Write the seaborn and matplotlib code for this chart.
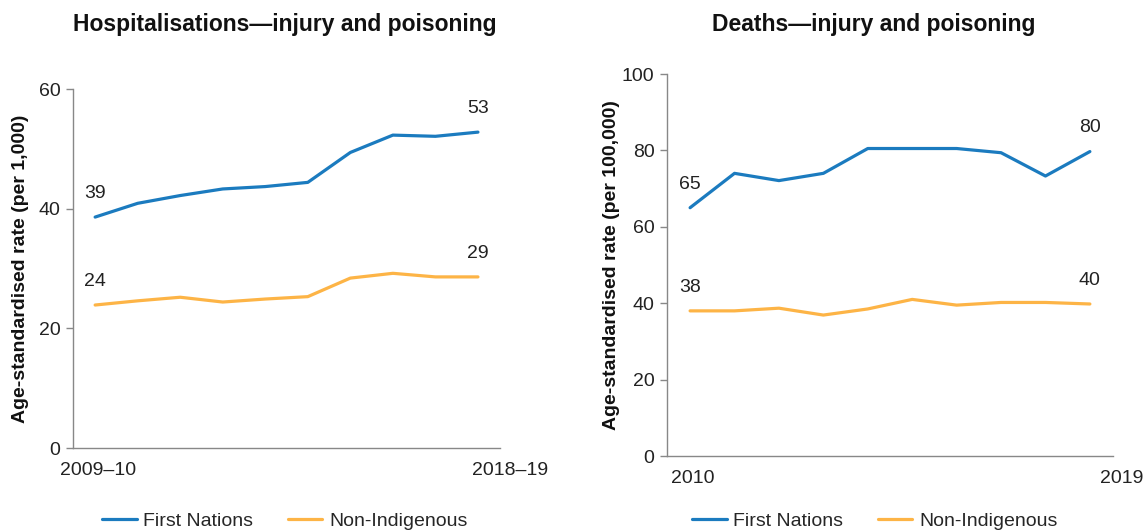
import numpy as np
import pandas as pd
import seaborn as sns
import matplotlib.pyplot as plt
from matplotlib.lines import Line2D

# data
hosp_years = ['2009–10', '2010–11', '2011–12', '2012–13', '2013–14',
              '2014–15', '2015–16', '2016–17', '2017–18', '2018–19']
hosp_first_nations = [38.6, 40.9, 42.2, 43.3, 43.7, 44.4, 49.4, 52.3, 52.1, 52.8]
hosp_non_indigenous = [23.9, 24.6, 25.2, 24.4, 24.9, 25.3, 28.4, 29.2, 28.6, 28.6]

death_years = ['2010', '2011', '2012', '2013', '2014',
               '2015', '2016', '2017', '2018', '2019']
death_first_nations = [65.0, 74.0, 72.1, 74.0, 80.5, 80.5, 80.5, 79.4, 73.3, 79.7]
death_non_indigenous = [38.0, 38.0, 38.7, 36.9, 38.5, 41.0, 39.5, 40.2, 40.2, 39.8]

series = ['First Nations', 'Non-Indigenous']
colors = {'First Nations': '#1b7bbf', 'Non-Indigenous': '#fdb446'}


def long_df(years, fn, ni):
    df = pd.DataFrame({'Year': years, 'First Nations': fn, 'Non-Indigenous': ni})
    df['pos'] = range(len(years))
    return df.melt(id_vars=['Year', 'pos'], var_name='Group', value_name='Rate')


sns.set_style('white')
plt.rcParams['font.family'] = ['Liberation Sans', 'DejaVu Sans']
plt.rcParams['font.size'] = 14

fig = plt.figure(figsize=(11.48, 5.31), dpi=100)
ax1 = fig.add_axes([0.0636, 0.1563, 0.372, 0.676])
ax2 = fig.add_axes([0.581, 0.1412, 0.3885, 0.7194])

panels = [
    (ax1, long_df(hosp_years, hosp_first_nations, hosp_non_indigenous), hosp_years,
     60, [0, 20, 40, 60], 'Age-standardised rate (per 1,000)', -0.104, 285),
    (ax2, long_df(death_years, death_first_nations, death_non_indigenous), death_years,
     100, [0, 20, 40, 60, 80, 100], 'Age-standardised rate (per 100,000)', -0.105, 875),
]

for ax, df, years, ymax, yticks, ylab, labx, legx in panels:
    sns.lineplot(data=df, x='pos', y='Rate', hue='Group', palette=colors,
                 linewidth=2.3, legend=False, ax=ax)
    n = len(years)
    ax.set_xlim(-0.52, n - 1 + 0.52)
    ax.set_ylim(0, ymax)
    ax.set_yticks(yticks)
    ax.set_xticks([])
    ax.tick_params(axis='y', length=5, width=1, color='#888888', labelsize=14,
                   labelcolor='#222222', left=True, direction='out', pad=4)
    for s in ['top', 'right']:
        ax.spines[s].set_visible(False)
    for s in ['left', 'bottom']:
        ax.spines[s].set_color('#888888')
        ax.spines[s].set_linewidth(1)
    ax.set_xlabel('')
    ax.set_ylabel(ylab, fontsize=14, fontweight='bold', color='#111111')
    ax.yaxis.set_label_coords(labx, 0.5)

    # category labels at the two ends of the axis
    trans = ax.get_xaxis_transform()
    ax.annotate(years[0], (0, 0), xycoords=trans, xytext=(2, -16),
                textcoords='offset points', ha='center', va='center',
                fontsize=14, color='#222222')
    ax.annotate(years[-1], (n - 1, 0), xycoords=trans, xytext=(23, -16),
                textcoords='offset points', ha='center', va='center',
                fontsize=14, color='#222222')

    # value labels at the first and last points
    for g in series:
        sub = df[df['Group'] == g]
        for i in [0, n - 1]:
            v = sub['Rate'].iloc[i]
            ax.annotate(f'{v:.0f}', (sub['pos'].iloc[i], v), xytext=(0, 17),
                        textcoords='offset points', ha='center', va='center',
                        fontsize=14, color='#222222')

    handles = [Line2D([], [], color=colors[g], lw=2.3) for g in series]
    fig.legend(handles, series, loc='center', bbox_to_anchor=(legx / 1148, 1 - 521 / 531),
               ncol=2, frameon=False, fontsize=14, handlelength=1.75,
               handletextpad=0.35, columnspacing=1.8, borderaxespad=0, borderpad=0)

fig.text(285 / 1148, 1 - 25 / 531, 'Hospitalisations—injury and poisoning',
         ha='center', va='center', fontsize=16.5, fontweight='bold', color='#111111')
fig.text(874 / 1148, 1 - 25 / 531, 'Deaths—injury and poisoning',
         ha='center', va='center', fontsize=16.5, fontweight='bold', color='#111111')

plt.savefig('out.png', dpi=100)
